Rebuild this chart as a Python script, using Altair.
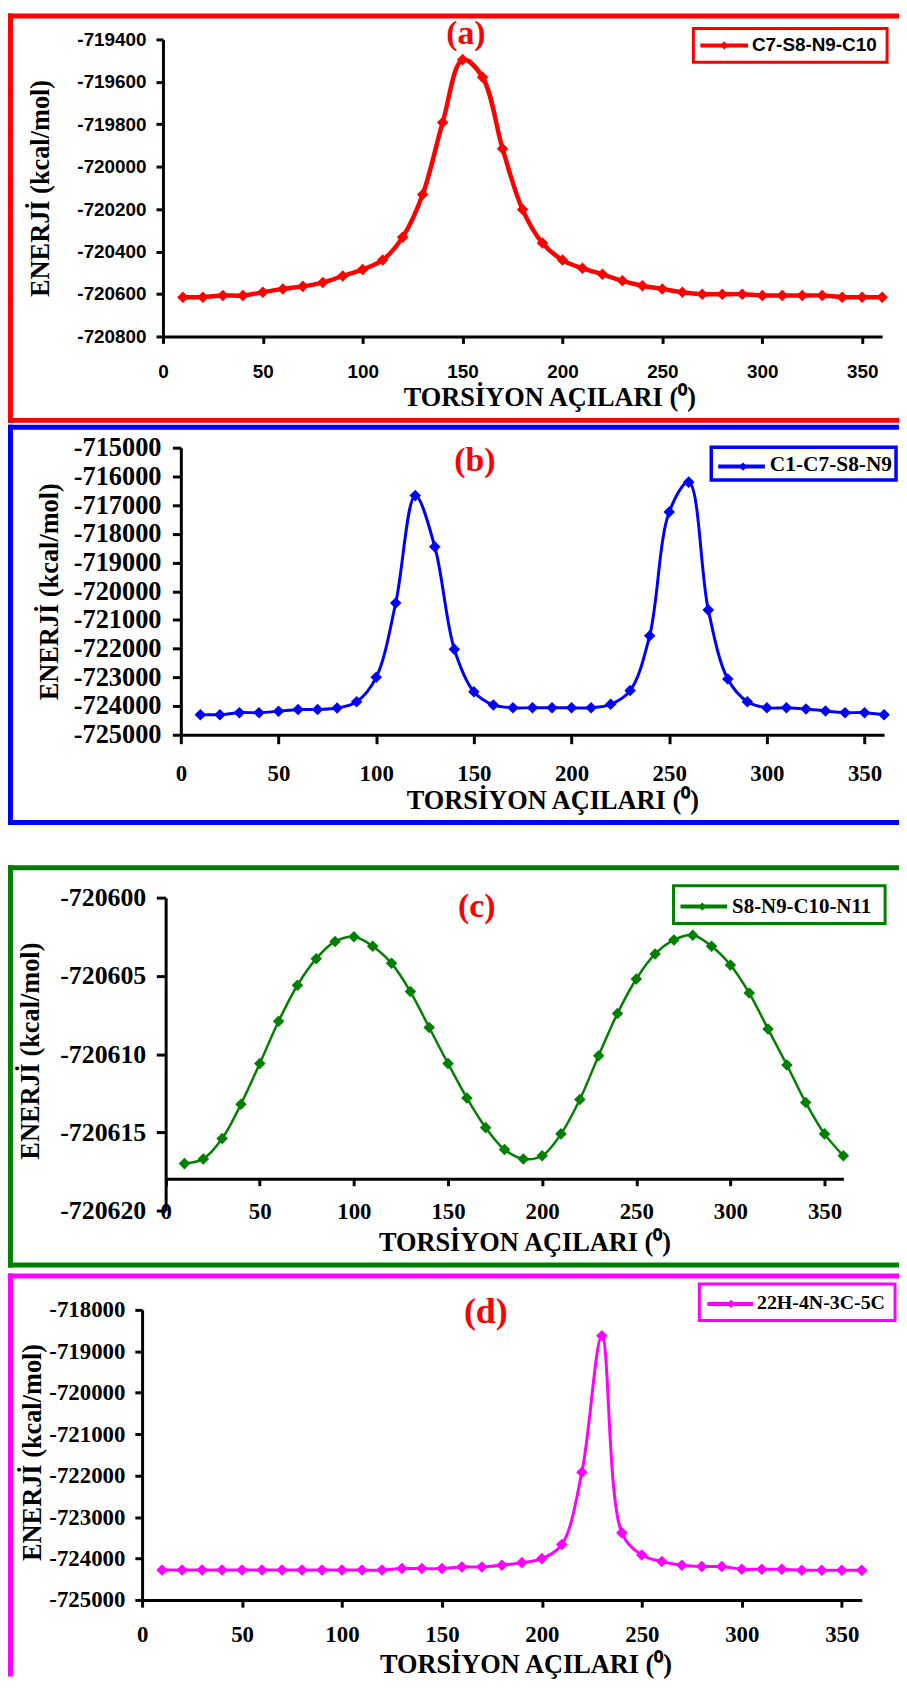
import altair as alt
import pandas as pd

# ---------------- data ----------------
ANGLES = [10, 20, 30, 40, 50, 60, 70, 80, 90, 100, 110, 120, 130, 140, 150, 160, 170, 180,
          190, 200, 210, 220, 230, 240, 250, 260, 270, 280, 290, 300, 310, 320, 330, 340, 350, 360]

E_A = [-720615, -720615, -720607, -720607, -720592, -720576, -720564, -720546, -720515, -720484,
       -720440, -720332, -720131, -719792, -719496, -719578, -719915, -720202, -720360, -720440,
       -720479, -720507, -720538, -720561, -720576, -720592, -720601, -720601, -720601, -720607,
       -720607, -720607, -720607, -720615, -720615, -720615]

E_B = [-724300, -724300, -724230, -724230, -724180, -724120, -724120, -724070, -723850, -723000,
       -720410, -716670, -718450, -722020, -723500, -723960, -724060, -724060, -724060, -724060,
       -724060, -723940, -723460, -721550, -717240, -716200, -720650, -723060, -723850, -724060,
       -724060, -724100, -724170, -724230, -724230, -724300]

E_C = [-720617.0, -720616.7, -720615.4, -720613.2, -720610.6, -720607.9, -720605.6, -720603.9,
       -720602.8, -720602.5, -720603.1, -720604.2, -720606.0, -720608.3, -720610.6, -720612.8,
       -720614.7, -720616.1, -720616.7, -720616.5, -720615.1, -720612.9, -720610.1, -720607.4,
       -720605.2, -720603.6, -720602.7, -720602.4, -720603.1, -720604.3, -720606.1, -720608.4,
       -720610.7, -720613.1, -720615.1, -720616.5]

E_D = [-724280, -724280, -724280, -724280, -724280, -724280, -724280, -724280, -724280, -724280,
       -724280, -724280, -724243, -724243, -724243, -724203, -724203, -724163, -724100, -724003,
       -723660, -721917, -718624, -723380, -723915, -724075, -724163, -724195, -724195, -724259,
       -724259, -724259, -724283, -724283, -724283, -724283]

SERIES = ["C7-S8-N9-C10", "C1-C7-S8-N9", "S8-N9-C10-N11", "22H-4N-3C-5C"]
TAGS = ["(a)", "(b)", "(c)", "(d)"]
X_TICKS = [0, 50, 100, 150, 200, 250, 300, 350]
Y_TICKS_A = [-720800, -720600, -720400, -720200, -720000, -719800, -719600, -719400]
Y_TICKS_B = [-725000, -724000, -723000, -722000, -721000, -720000, -719000, -718000,
             -717000, -716000, -715000]
Y_TICKS_C = [-720620, -720615, -720610, -720605, -720600]
Y_TICKS_D = [-725000, -724000, -723000, -722000, -721000, -720000, -719000, -718000]
X_TITLE = "TORSİYON AÇILARI (⁰)"
Y_TITLE = "ENERJİ (kcal/mol)"

SERIF = "Liberation Serif"
SANS = "Liberation Sans"

PANELS = [
    dict(values=E_A, name=SERIES[0], tag=TAGS[0], yticks=Y_TICKS_A, ydomain=[-720800, -719400],
         color="#FF0000", height=299, xrange=[21, 745], yoff=-21, xoff=0,
         xtick=7, ytick=7, ylabpad=10, xlabpad=28.5, tickfont=SANS, xlab=19, ylab=19,
         xtitle=(410, 62), ytitle=(-123, 149.5), lw=4.5, msize=90,
         frame=dict(top=-23.5, bottom=383.5, sp=(-26, 386.25)),
         tagpos=(326, -5, 34),
         leg=dict(box=(555, 750, -11, 23), line=(562, 610, 6), dia=586, text=(614, 6),
                  font=SANS, size=19, bw=3)),
    dict(values=E_B, name=SERIES[1], tag=TAGS[1], yticks=Y_TICKS_B, ydomain=[-725000, -715000],
         color="#0000FF", height=289, xrange=[39, 747], yoff=-39, xoff=0,
         xtick=9, ytick=8.5, ylabpad=11.5, xlabpad=30, tickfont=SERIF, xlab=23, ylab=26.5,
         xtitle=(413, 66), ytitle=(-132, 144.5), lw=3, msize=90,
         frame=dict(top=-20.5, bottom=377.3, sp=(-23.25, 380)),
         tagpos=(335, 13.5, 34),
         leg=dict(box=(573, 759, -0.5, 32.5), line=(580, 627, 19), dia=605, text=(632, 17.5),
                  font=SERIF, size=21.5, bw=3.5)),
    dict(values=E_C, name=SERIES[2], tag=TAGS[2], yticks=Y_TICKS_C, ydomain=[-720620, -720600],
         color="#008000", height=315, xrange=[23.7, 706], yoff=-23.7, xoff=-32,
         xtick=7, ytick=9.4, ylabpad=10.6, xlabpad=26, tickfont=SERIF, xlab=23, ylab=26,
         xtitle=(385, 64), ytitle=(-135.7, 154), lw=2.5, msize=90,
         frame=dict(top=-30.2, bottom=369.8, sp=(-72.5, 375)),
         tagpos=(337, 9, 34),
         leg=dict(box=(535, 748, -12, 26), line=(542, 589, 9), dia=564, text=(594, 9),
                  font=SERIF, size=21, bw=3)),
    dict(values=E_D, name=SERIES[3], tag=TAGS[3], yticks=Y_TICKS_D, ydomain=[-725000, -718000],
         color="#FF00FF", height=292, xrange=[0, 724.5], yoff=0, xoff=0,
         xtick=7.3, ytick=7.3, ylabpad=10, xlabpad=27.4, tickfont=SERIF, xlab=23, ylab=23,
         xtitle=(386, 65), ytitle=(-110.5, 143), lw=3, msize=90,
         frame=dict(top=-34, bottom=None, sp=(-40, 369)),
         tagpos=(346, 2, 36),
         leg=dict(box=(561, 758, -26, 10.7), line=(569, 615, -6), dia=593, text=(619, -7),
                  font=SERIF, size=20, bw=3)),
]

LEFT = -135    # frame outer left edge (relative to plot origin)
RIGHT = 762    # frame right end
T = 5          # frame thickness
ONE = [{"k": 0}]


def panel(p):
    df = pd.DataFrame({"angle": ANGLES, "energy": p["values"]})
    xs = alt.Scale(domain=[0, 360], range=p["xrange"], nice=False, zero=False)
    ys = alt.Scale(domain=p["ydomain"], nice=False, zero=False)
    xaxis = alt.Axis(
        values=X_TICKS, title=X_TITLE, grid=False, offset=p["xoff"],
        domainColor="black", domainWidth=3, tickColor="black", tickWidth=3, tickSize=p["xtick"],
        labelFont=p["tickfont"], labelFontSize=p["xlab"], labelFontWeight="bold", labelColor="black",
        labelBaseline="middle", labelPadding=p["xlabpad"], labelOverlap=False, labelFlush=False,
        titleFont=SERIF, titleFontSize=26.5, titleFontWeight="bold", titleColor="black",
        titleX=p["xtitle"][0], titleY=p["xtitle"][1], titleAlign="center", titleBaseline="middle")
    yaxis = alt.Axis(
        values=p["yticks"], title=Y_TITLE, grid=False, offset=p["yoff"],
        labelExpr="datum.value + ''",
        domainColor="black", domainWidth=3, tickColor="black", tickWidth=3, tickSize=p["ytick"],
        labelFont=p["tickfont"], labelFontSize=p["ylab"], labelFontWeight="bold", labelColor="black",
        labelPadding=p["ylabpad"], labelOverlap=False, labelFlush=False,
        titleFont=SERIF, titleFontSize=26.5, titleFontWeight="bold", titleColor="black",
        titleX=p["ytitle"][0], titleY=p["ytitle"][1], titleAlign="center", titleBaseline="middle",
        titleAngle=270)
    enc = dict(x=alt.X("angle:Q", scale=xs, axis=xaxis), y=alt.Y("energy:Q", scale=ys, axis=yaxis))

    base1 = alt.Chart(alt.Data(values=ONE))
    f = p["frame"]
    c = p["color"]
    h = T / 2.0
    layers = []
    # invisible spacer fixing the panel's vertical extent
    layers.append(base1.mark_rect(fill="white").encode(
        x=alt.value(LEFT), x2=alt.value(LEFT), y=alt.value(f["sp"][0]), y2=alt.value(f["sp"][1])))
    # frame (filled bands)
    fb = f["bottom"] + h if f["bottom"] is not None else f["sp"][1]
    layers.append(base1.mark_rect(fill=c).encode(
        x=alt.value(LEFT), x2=alt.value(RIGHT), y=alt.value(f["top"] - h), y2=alt.value(f["top"] + h)))
    layers.append(base1.mark_rect(fill=c).encode(
        x=alt.value(LEFT), x2=alt.value(LEFT + T), y=alt.value(f["top"] - h), y2=alt.value(fb)))
    if f["bottom"] is not None:
        layers.append(base1.mark_rect(fill=c).encode(
            x=alt.value(LEFT), x2=alt.value(RIGHT),
            y=alt.value(f["bottom"] - h), y2=alt.value(f["bottom"] + h)))
    # data
    data = alt.Chart(df)
    layers.append(data.mark_line(color=c, strokeWidth=p["lw"], interpolate="catmull-rom").encode(**enc))
    layers.append(data.mark_point(shape="diamond", filled=True, size=p["msize"], color=c,
                                  stroke=c, strokeWidth=1.5, opacity=1).encode(**enc))
    # legend
    lg = p["leg"]
    layers.append(base1.mark_rect(fill="white", stroke=c, strokeWidth=lg["bw"]).encode(
        x=alt.value(lg["box"][0]), x2=alt.value(lg["box"][1]),
        y=alt.value(lg["box"][2]), y2=alt.value(lg["box"][3])))
    layers.append(base1.mark_rule(color=c, strokeWidth=4).encode(
        x=alt.value(lg["line"][0]), x2=alt.value(lg["line"][1]), y=alt.value(lg["line"][2])))
    layers.append(base1.mark_point(shape="diamond", filled=True, size=70, color=c, opacity=1).encode(
        x=alt.value(lg["dia"]), y=alt.value(lg["line"][2])))
    layers.append(alt.Chart(alt.Data(values=[{"label": p["name"]}])).mark_text(
        align="left", baseline="middle", font=lg["font"], fontSize=lg["size"], fontWeight="bold",
        color="black").encode(x=alt.value(lg["text"][0]), y=alt.value(lg["text"][1]),
                              text=alt.Text("label:N")))
    # panel tag
    tx, ty, tsz = p["tagpos"]
    layers.append(alt.Chart(alt.Data(values=[{"tag": p["tag"]}])).mark_text(
        align="center", baseline="middle", font=SERIF, fontSize=tsz, fontWeight="bold",
        color="#FF0000").encode(x=alt.value(tx), y=alt.value(ty), text=alt.Text("tag:N")))
    return alt.layer(*layers).properties(width=750, height=p["height"])


chart = alt.vconcat(*[panel(p) for p in PANELS], spacing=0).properties(
    padding=0, background="white").configure_view(stroke=None)

chart.save("out.html", embed_options={"renderer": "svg", "actions": False})
